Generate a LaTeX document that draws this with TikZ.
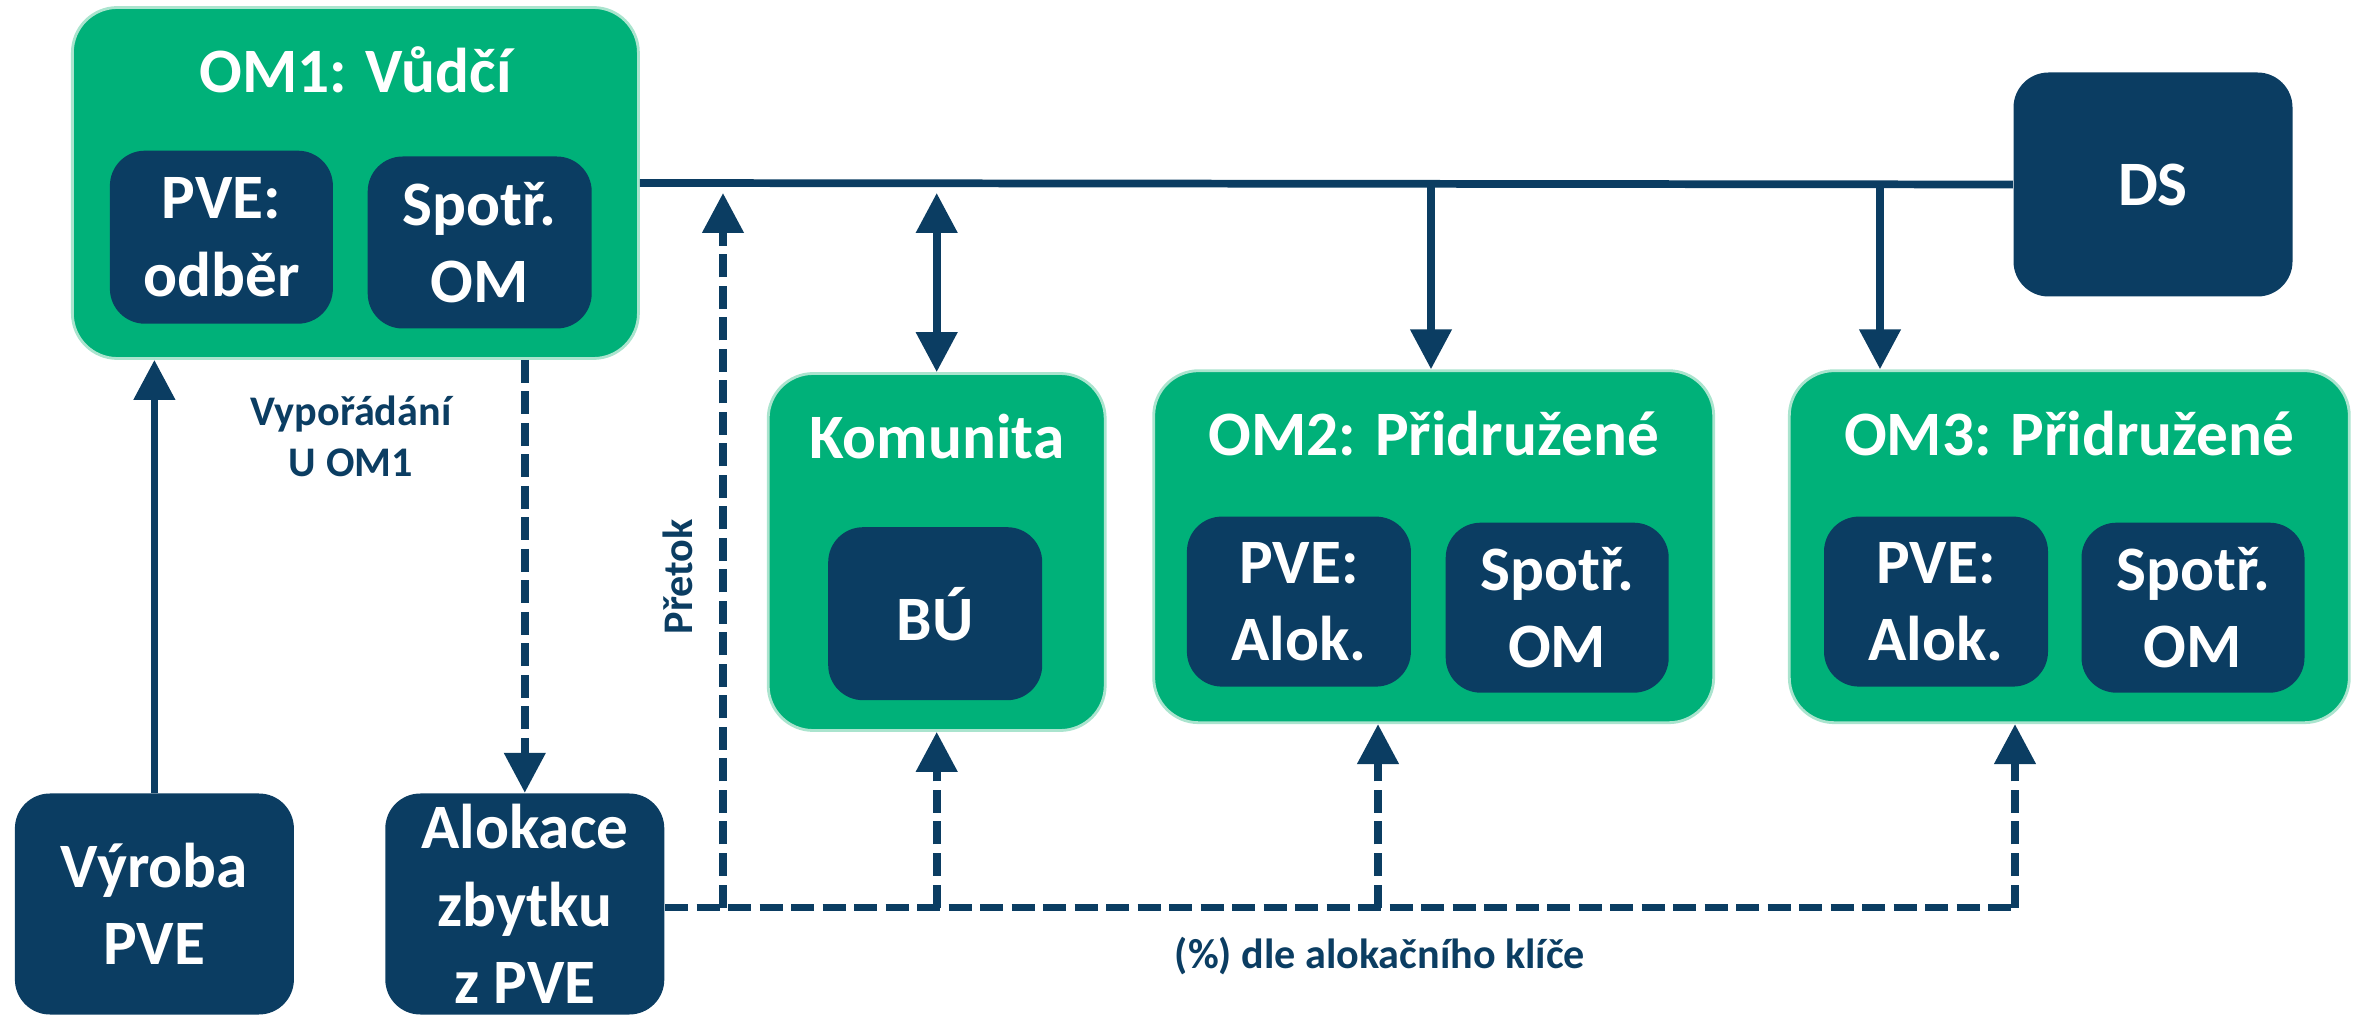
\documentclass[tikz,border=0pt]{standalone}
\usepackage{fontspec}
\setmainfont{Carlito}
\usetikzlibrary{arrows.meta,positioning}
\definecolor{zelena}{RGB}{0,177,121}
\definecolor{modra}{RGB}{11,61,98}
\definecolor{okraj}{RGB}{170,228,206}

\begin{document}
\begin{tikzpicture}[font=\bfseries,
  skupina/.style={rectangle, rounded corners=0.45cm, fill=zelena, draw=okraj, line width=0.8pt, inner sep=0pt},
  blok/.style={rectangle, rounded corners=0.35cm, fill=modra, text=white, align=center, inner sep=0pt,
    font=\fontsize{18}{22}\selectfont\bfseries},
  nadpis/.style={text=white, anchor=base, font=\fontsize{18}{22}\selectfont\bfseries},
  popis/.style={text=modra, align=center, font=\fontsize{12}{14.5}\selectfont\bfseries},
  vodic/.style={draw=modra, line width=2.2pt},
  sipka/.style={vodic, -{Triangle[width=0.4cm,length=0.4cm]}},
  carky/.style={dash pattern=on 0.23cm off 0.085cm}]

\useasboundingbox (0,0) rectangle (23.61,-10.17);

\node[skupina, minimum width=5.66cm, minimum height=3.51cm] (om1) at (3.554,-1.83) {};
\node[nadpis] (om1t) at ([yshift=-0.86cm]om1.north) {OM1: Vůdčí};
\node[blok, minimum width=2.23cm, minimum height=1.73cm] (om1pve) at (2.214,-2.372) {PVE:\\odběr};
\node[blok, minimum width=2.24cm, minimum height=1.72cm] (om1spo) at (4.797,-2.425) {Spotř.\\OM};

\node[blok, minimum width=2.79cm, minimum height=2.24cm] (ds) at (21.53,-1.845) {DS};

\node[skupina, minimum width=3.37cm, minimum height=3.57cm] (kom) at (9.367,-5.52) {};
\node[nadpis] (komt) at ([yshift=-0.86cm]kom.north) {Komunita};
\node[blok, minimum width=2.14cm, minimum height=1.73cm] (bu) at (9.352,-6.137) {BÚ};

\node[skupina, minimum width=5.6cm, minimum height=3.52cm] (om2) at (14.337,-5.467) {};
\node[nadpis] (om2t) at ([yshift=-0.86cm]om2.north) {OM2: Přidružené};
\node[blok, minimum width=2.24cm, minimum height=1.7cm] (om2pve) at (12.989,-6.016) {PVE:\\Alok.};
\node[blok, minimum width=2.23cm, minimum height=1.7cm] (om2spo) at (15.572,-6.077) {Spotř.\\OM};

\node[skupina, minimum width=5.6cm, minimum height=3.52cm] (om3) at (20.693,-5.467) {};
\node[nadpis] (om3t) at ([yshift=-0.86cm]om3.north) {OM3: Přidružené};
\node[blok, minimum width=2.24cm, minimum height=1.7cm] (om3pve) at (19.36,-6.016) {PVE:\\Alok.};
\node[blok, minimum width=2.23cm, minimum height=1.7cm] (om3spo) at (21.93,-6.077) {Spotř.\\OM};

\node[blok, minimum width=2.79cm, minimum height=2.21cm] (vyroba) at (1.544,-9.04) {Výroba\\PVE};
\node[blok, minimum width=2.79cm, minimum height=2.21cm] (alokace) at (5.248,-9.04) {Alokace\\zbytku\\z PVE};

\coordinate (j2) at (14.31,-1.84);
\coordinate (j3) at (18.8,-1.84);
\coordinate (jk) at (9.367,-1.93);
\coordinate (pt) at (7.23,-1.93);
\coordinate (k1) at (20.15,-9.075);
\coordinate (k2) at (13.78,-9.075);

\draw[vodic] (om1.east) -- (ds.west);
\draw[sipka] (j2) -- (j2 |- om2.north);
\draw[sipka] (j3) -- (j3 |- om3.north);
\draw[vodic, {Triangle[width=0.4cm,length=0.4cm]}-{Triangle[width=0.4cm,length=0.4cm]}] (jk) -- (kom.north);

\draw[sipka] (vyroba.north) -- (vyroba.north |- om1.south);
\draw[sipka, carky] (alokace.north |- om1.south) -- (alokace.north);

\draw[vodic, carky] (alokace.east |- k1) -- (k1);
\draw[sipka, carky] (pt |- k1) -- (pt);
\draw[sipka, carky] (kom.south |- k1) -- (kom.south);
\draw[sipka, carky] (k2) -- (k2 |- om2.south);
\draw[sipka, carky] (k1) -- (k1 |- om3.south);

\node[popis] (vyp) at (3.509,-4.367) {Vypořádání\\U OM1};
\node[popis, rotate=90] (pretok) at (6.777,-5.768) {Přetok};
\node[popis] (klic) at (13.8,-9.56) {(\%) dle alokačního klíče};

\end{tikzpicture}
\end{document}
